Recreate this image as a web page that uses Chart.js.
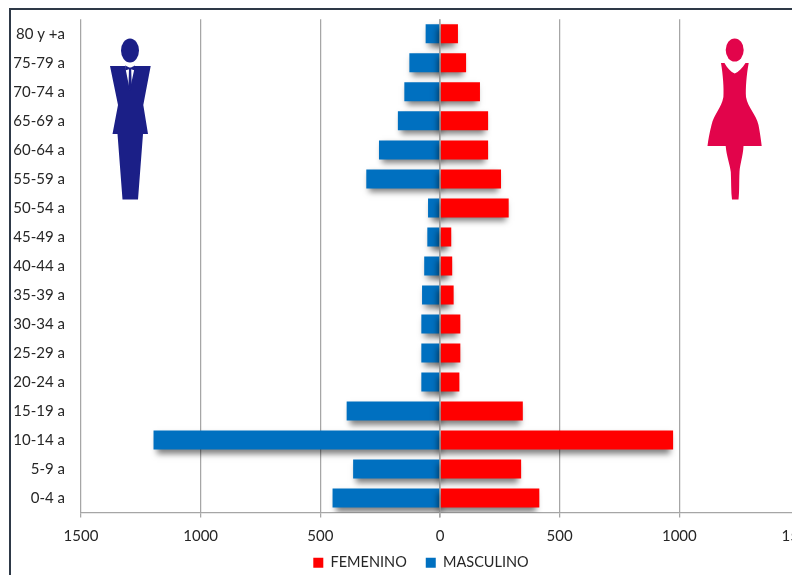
<!DOCTYPE html>
<html>
<head>
<meta charset="utf-8">
<title>Pirámide de población</title>
<script src="https://cdn.jsdelivr.net/npm/chart.js@4"></script>
<style>
  html, body { margin: 0; padding: 0; background: #fff; overflow: hidden; }
  #wrap { position: relative; width: 792px; height: 575px; overflow: hidden; }
  #marco { position: absolute; left: 9px; top: 8px; width: 900px; height: 700px; border: 2px solid #2e3947; box-sizing: border-box; }
  canvas { position: absolute; left: 0; top: 0; }
  svg { position: absolute; left: 0; top: 0; }
</style>
</head>
<body>
<div id="wrap">
  <div id="marco"></div>
  <canvas id="piramide" width="842" height="575"></canvas>
  <svg width="792" height="575" viewBox="0 0 792 575">
    <!-- hombre -->
    <g fill="#1b1f87">
      <ellipse cx="130" cy="50.5" rx="9" ry="12"/>
      <path d="M110 66 L125 66 L129.8 90 L135 66 L150.7 66 L143.3 105 L148 134 L143 134 L138 199.5 L122.5 199.5 L117.5 134 L112.5 134 L118 105 Z"/>
      <path d="M125.2 65.5 L129.3 67.5 L131 67.5 L135 65.5 L135 70.5 L131.2 69.3 L131.8 88 L129.8 91 L128.4 88 L129 69.3 L125.2 70.5 Z"/>
    </g>
    <!-- mujer -->
    <g fill="#e2044b">
      <ellipse cx="734.7" cy="50" rx="9" ry="11.5"/>
      <path d="M721 63 L724.5 63 C727 68 731 72 734.7 73.5 C738.5 72 742.5 68 745.5 63 L748.7 63
               C746.5 75 745.5 88 746 97 C748 108 756 114 758.5 125 C760 133 761 140 761.7 146
               L743.5 146 C743 156 740 164 739.5 172 C739 182 739.5 192 738.5 199.5 L732 199.5
               C731 192 731.3 182 730.8 172 C729.8 164 726.5 156 725.7 146 L707.5 146
               C708.2 140 709.5 133 711.5 125 C714 114 721.5 108 723.4 97 C724 88 723 75 721 63 Z"/>
    </g>
  </svg>
</div>
<script>
const grupos = ['80 y +a', '75-79 a', '70-74 a', '65-69 a', '60-64 a', '55-59 a', '50-54 a', '45-49 a', '40-44 a',
                '35-39 a', '30-34 a', '25-29 a', '20-24 a', '15-19 a', '10-14 a', '5-9 a', '0-4 a'];
const femenino = [75, 109, 167, 201, 201, 255, 287, 47, 51, 57, 85, 85, 81, 346, 974, 339, 415];
const masculino = [60, 128, 149, 176, 255, 308, 50, 53, 66, 75, 78, 78, 78, 390, 1197, 363, 449];
const limiteEje = 1500;
const pasoEje = 500;

const colorTexto = '#262626';
const colorEje = '#a6a6a6';
const fuente = { family: 'Lato, Carlito, sans-serif', size: 15 };

// Sombra bajo las barras, desplazada hacia el centro de la pirámide
const sombraBarras = {
  id: 'sombraBarras',
  beforeDatasetDraw(chart, args) {
    const ctx = chart.ctx;
    ctx.save();
    ctx.shadowColor = 'rgba(0, 0, 0, 0.5)';
    ctx.shadowBlur = 6;
    ctx.shadowOffsetX = args.index === 0 ? -3 : 3;
    ctx.shadowOffsetY = 4;
  },
  afterDatasetDraw(chart) {
    chart.ctx.restore();
  }
};

// Línea del cero por encima de las barras
const lineaCero = {
  id: 'lineaCero',
  afterDatasetsDraw(chart) {
    const { ctx, chartArea, scales } = chart;
    const x0 = scales.x.getPixelForValue(0);
    ctx.save();
    ctx.strokeStyle = colorEje;
    ctx.lineWidth = 1.25;
    ctx.beginPath();
    ctx.moveTo(x0, chartArea.top);
    ctx.lineTo(x0, chartArea.bottom + 5);
    ctx.stroke();
    ctx.restore();
  }
};

// La leyenda va centrada en el lienzo completo, no en el área útil;
// el eje x se alarga para que no se recorten sus etiquetas
const ajusteCajas = {
  id: 'ajusteCajas',
  afterLayout(chart) {
    const legend = chart.legend;
    legend.left += 21.5;
    legend.right += 21.5;
    legend.adjustHitBoxes();
    chart.scales.x.bottom += 10;
  }
};

new Chart(document.getElementById('piramide').getContext('2d'), {
  type: 'bar',
  data: {
    labels: grupos,
    datasets: [
      { label: 'FEMENINO', data: femenino, backgroundColor: '#ff0000' },
      { label: 'MASCULINO', data: masculino.map(v => -v), backgroundColor: '#0070c0' }
    ]
  },
  options: {
    indexAxis: 'y',
    responsive: false,
    animation: false,
    barPercentage: 0.655,
    categoryPercentage: 1,
    layout: { autoPadding: false, padding: { left: 0, right: 43, top: 19.3, bottom: -5 } },
    plugins: {
      tooltip: { enabled: false },
      legend: {
        position: 'bottom',
        labels: {
          boxWidth: 10,
          boxHeight: 10,
          padding: 19,
          color: colorTexto,
          font: { family: fuente.family, size: 14.5 }
        }
      }
    },
    scales: {
      x: {
        stacked: true,
        min: -limiteEje,
        max: limiteEje,
        afterFit(scale) { scale.height = 23.9; },
        ticks: {
          stepSize: pasoEje,
          autoSkip: false,
          maxRotation: 0,
          padding: 9.5,
          color: colorTexto,
          font: fuente,
          callback: v => Math.abs(v)
        },
        grid: { color: colorEje, lineWidth: 1.25, tickLength: 5 },
        border: { color: colorEje, width: 1.25 }
      },
      y: {
        stacked: true,
        afterFit(scale) { scale.width = 81; },
        ticks: { padding: 0, color: colorTexto, font: fuente, autoSkip: false },
        // marcas invisibles: separan las etiquetas del eje sin añadir margen arriba y abajo
        grid: { drawOnChartArea: false, tickLength: 16, tickColor: 'transparent' },
        border: { display: false }
      }
    }
  },
  plugins: [sombraBarras, lineaCero, ajusteCajas]
});
</script>
</body>
</html>
